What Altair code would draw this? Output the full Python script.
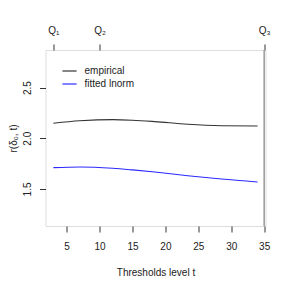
import altair as alt
import pandas as pd

t_vals = [3, 7, 12, 15, 18.4, 23.4, 28.5, 34]
empirical = [2.148, 2.172, 2.184, 2.178, 2.164, 2.138, 2.124, 2.121]
fitted = [1.710, 1.717, 1.704, 1.688, 1.667, 1.631, 1.598, 1.569]
series_names = ["empirical", "fitted lnorm"]
series_colors = ["#333333", "#2a2aff"]
x_ticks = [5, 10, 15, 20, 25, 30, 35]
y_ticks = [1.5, 2.0, 2.5]
q_pos = [3, 10, 35]
q_labels = ["Q\u2081", "Q\u2082", "Q\u2083"]

rows = []
for t, e, f in zip(t_vals, empirical, fitted):
    rows.append({"t": t, "r": e, "series": series_names[0]})
    rows.append({"t": t, "r": f, "series": series_names[1]})
df = pd.DataFrame(rows)

FONT = "Liberation Sans"
xscale = alt.Scale(domain=[1.8, 35.2], nice=False, zero=False)
yscale = alt.Scale(domain=[1.135, 2.87], nice=False, zero=False)

lines = alt.Chart(df).mark_line(strokeWidth=1.1, interpolate="monotone").encode(
    x=alt.X("t:Q", scale=xscale,
            axis=alt.Axis(values=x_ticks, title="Thresholds level t", grid=False,
                          tickSize=6, labelPadding=9, titlePadding=16,
                          domain=False, labelFontSize=10, titleFontSize=10,
                          labelFont=FONT, titleFont=FONT, titleFontWeight="normal",
                          labelColor="#222", titleColor="#222", tickColor="#333")),
    y=alt.Y("r:Q", scale=yscale,
            axis=alt.Axis(values=y_ticks, format=".1f", title="r(\u03b4\u2080, t)", grid=False,
                          tickSize=6, labelAngle=-90, labelAlign="center", labelBaseline="bottom",
                          labelPadding=7, titleX=-37, titleY=88, titleAngle=-90,
                          titleBaseline="top", titleAlign="center", domain=False,
                          labelFontSize=10, titleFontSize=10, labelFont=FONT, titleFont=FONT,
                          titleFontWeight="normal", labelColor="#222", titleColor="#222",
                          tickColor="#333")),
    color=alt.Color("series:N", scale=alt.Scale(domain=series_names, range=series_colors),
                    legend=alt.Legend(title=None, orient="none", legendX=16, legendY=13,
                                      symbolType="stroke", symbolSize=200, symbolStrokeWidth=1.2,
                                      labelFont=FONT, labelFontSize=10, labelColor="#222",
                                      rowPadding=0, labelOffset=7)),
)

qdf = pd.DataFrame({"t": q_pos, "label": q_labels})
label_expr = "datum.value == 3 ? 'Q\u2081' : datum.value == 10 ? 'Q\u2082' : 'Q\u2083'"
qaxis = alt.Chart(qdf).mark_point(opacity=0).encode(
    x=alt.X("t:Q", scale=xscale,
            axis=alt.Axis(orient="top", values=q_pos, labelExpr=label_expr, title=None,
                          grid=False, tickSize=6, labelPadding=9, domain=False,
                          labelFontSize=10, labelFont=FONT, labelColor="#222",
                          tickColor="#333", labelFlush=False)),
    y=alt.value(0),
)

vline = alt.Chart(pd.DataFrame({"t": [35]})).mark_rule(color="#a0a0a0", strokeWidth=1.6).encode(
    x=alt.X("t:Q", scale=xscale, axis=None)
)

chart = alt.layer(vline, lines, qaxis).resolve_axis(x="independent").properties(
    width=220, height=176,
    autosize="none",
    padding={"left": 37.5, "top": 42, "right": 15, "bottom": 55},
).configure_view(stroke="#222", strokeWidth=1).configure(background="white")

chart.save("out.html", embed_options={"renderer": "svg", "actions": False})
